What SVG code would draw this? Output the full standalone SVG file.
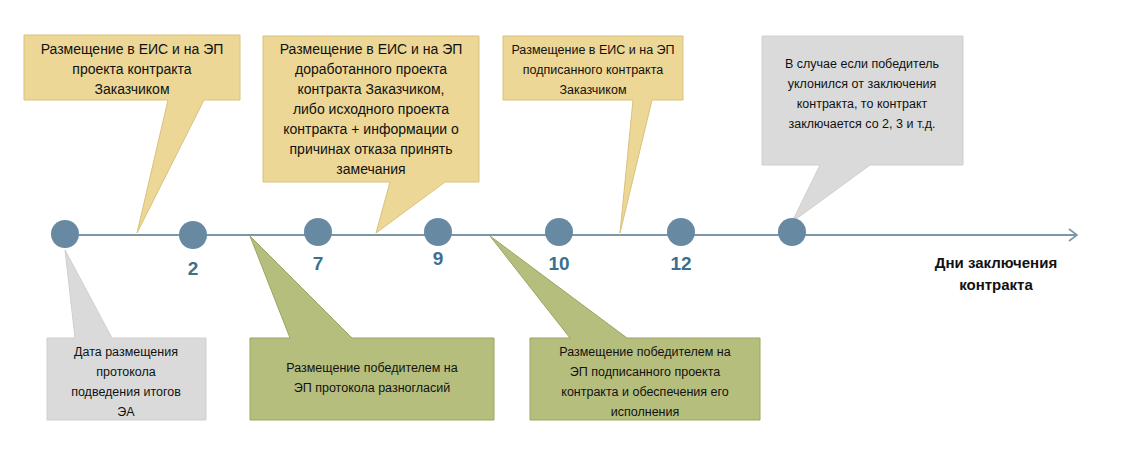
<svg xmlns="http://www.w3.org/2000/svg" width="1144" height="460" viewBox="0 0 1144 460">
<style>
text{font-family:"Liberation Sans",Arial,sans-serif;font-size:14px;fill:#111;text-anchor:middle}
.sm{font-size:12.5px}
.y{fill:#ecd796;stroke:#d9c27c;stroke-width:1}
.g{fill:#b6be7e;stroke:#9ba462;stroke-width:1}
.s{fill:#dadada;stroke:#cfcfcf;stroke-width:1}
.dot{fill:#6789a2}
.num{font-size:19px;font-weight:bold;fill:#3d6f8e}
.b{font-weight:bold;font-size:15px}
</style>
<g id="connectors">
<line x1="65" y1="235" x2="1076" y2="235" stroke="#7b96a8" stroke-width="2"/>
<polyline points="1069,229 1077,235 1069,241" fill="none" stroke="#7b96a8" stroke-width="1.6"/>
</g>
<g id="c1"><path class="y" d="M24,35H240V100H204L137,233L168,100H24Z"/>
<text x="132" y="54">Размещение в ЕИС и на ЭП</text><text x="132" y="74">проекта контракта</text><text x="132" y="94">Заказчиком</text></g>
<g id="c2"><path class="y" d="M263,36H479V182H445L376,233L390,182H263Z"/>
<text x="371" y="54">Размещение в ЕИС и на ЭП</text><text x="371" y="74">доработанного проекта</text><text x="371" y="94">контракта Заказчиком,</text><text x="371" y="114">либо исходного проекта</text><text x="371" y="134">контракта + информации о</text><text x="371" y="154">причинах отказа принять</text><text x="371" y="174">замечания</text></g>
<g id="c3"><path class="y" d="M503,36H683V100H652L620,233L633,100H503Z"/>
<text class="sm" x="593" y="54">Размещение в ЕИС и на ЭП</text><text class="sm" x="593" y="74">подписанного контракта</text><text class="sm" x="593" y="94">Заказчиком</text></g>
<g id="c4"><path class="s" d="M762,36H963V165H870L792,222L820,165H762Z"/>
<text class="sm" x="862" y="68">В случае если победитель</text><text class="sm" x="862" y="88">уклонился от заключения</text><text class="sm" x="862" y="108">контракта, то контракт</text><text class="sm" x="862" y="128">заключается со 2, 3 и т.д.</text></g>
<g id="c5"><path class="s" d="M47,338H75L65,250L112,338H206V420H47Z"/>
<text class="sm" x="126" y="356">Дата размещения</text><text class="sm" x="126" y="376">протокола</text><text class="sm" x="126" y="396">подведения итогов</text><text class="sm" x="126" y="416">ЭА</text></g>
<g id="c6"><path class="g" d="M250,338H290L250,236L352,338H494V420H250Z"/>
<text class="sm" x="372" y="372">Размещение победителем на</text><text class="sm" x="372" y="392">ЭП протокола разногласий</text></g>
<g id="c7"><path class="g" d="M530,338H570L490,236L627,338H760V420H530Z"/>
<text class="sm" x="645" y="356">Размещение победителем на</text><text class="sm" x="645" y="376">ЭП подписанного проекта</text><text class="sm" x="645" y="396">контракта и обеспечения его</text><text class="sm" x="645" y="416">исполнения</text></g>
<g id="nodes">
<circle class="dot" cx="65" cy="234" r="14"/>
<circle class="dot" cx="193" cy="235" r="14"/>
<circle class="dot" cx="318" cy="232" r="14"/>
<circle class="dot" cx="438" cy="232" r="14"/>
<circle class="dot" cx="559" cy="232" r="14"/>
<circle class="dot" cx="681" cy="232" r="14"/>
<circle class="dot" cx="792" cy="232" r="14"/>
<text class="num" x="193" y="275">2</text>
<text class="num" x="318" y="270">7</text>
<text class="num" x="438" y="265">9</text>
<text class="num" x="559" y="270">10</text>
<text class="num" x="681" y="270">12</text>
</g>
<g id="axis-label"><text class="b" x="996" y="268">Дни заключения</text><text class="b" x="996" y="290">контракта</text></g>
</svg>
